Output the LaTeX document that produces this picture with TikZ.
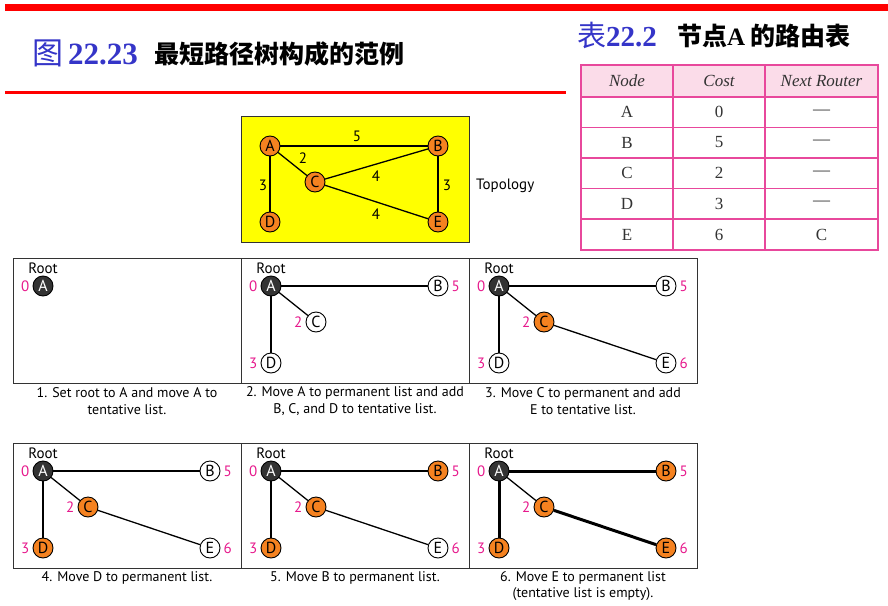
\documentclass[tikz,border=0pt]{standalone}
\usepackage{fontspec}
\usetikzlibrary{positioning}
\setmainfont{Liberation Serif}
\newfontfamily\cjk{Noto Sans CJK SC}
\newfontfamily\lab{PT Sans}
\definecolor{titleblue}{HTML}{3535C8}
\definecolor{barred}{HTML}{FF0000}
\definecolor{tpink}{HTML}{E8489C}
\definecolor{hpink}{HTML}{FBDCE9}
\definecolor{ora}{HTML}{F58220}
\definecolor{mag}{HTML}{E6198C}
\definecolor{ylw}{HTML}{FFFF00}
\definecolor{dk}{HTML}{333333}
\tikzset{
  vtx/.style={circle,draw=black,line width=0.9pt,minimum size=20pt,inner sep=0pt,font=\lab\fontsize{16}{16}\selectfont},
  wv/.style={vtx,fill=white},
  ov/.style={vtx,fill=ora},
  bv/.style={vtx,fill=dk,text=white},
  edge/.style={line width=1.3pt},
  tedge/.style={line width=3pt},
  cost/.style={text=mag,font=\lab\fontsize{15}{15}\selectfont,inner sep=1pt},
  wlab/.style={font=\lab\fontsize{15}{15}\selectfont,inner sep=1pt},
  capt/.style={font=\lab\fontsize{14}{16.5}\selectfont,align=center,inner sep=0pt},
  panel/.style={draw=dk,line width=0.9pt},
  tcell/.style={font=\fontsize{17}{17}\selectfont,text=black!80,inner sep=0pt}
}
\begin{document}
\begin{tikzpicture}[x=1pt,y=-1pt]
\useasboundingbox (0,0) rectangle (888,605);
% red bars
\fill[barred] (5,4) rectangle (888,11);
\fill[barred] (5,91) rectangle (566,93.5);
% titles
\node[anchor=west,inner sep=0pt,text=titleblue] (t1) at (32,53) {{\cjk\fontsize{31}{31}\selectfont 图}\hspace{5pt}{\bfseries\fontsize{31}{31}\selectfont 22.23}};
\node[anchor=west,inner sep=0pt] (t2) at (154,54) {\cjk\bfseries\fontsize{25}{25}\selectfont 最短路径树构成的范例};
\node[anchor=west,inner sep=0pt,text=titleblue] (t3) at (577,35) {{\cjk\fontsize{29}{29}\selectfont 表}{\bfseries\fontsize{29}{29}\selectfont 22.2}};
\node[anchor=west,inner sep=0pt] (t4) at (677,36) {\cjk\bfseries\fontsize{25}{25}\selectfont 节点{\rmfamily A} 的路由表};
% table
\fill[hpink] (581,65) rectangle (878,97);
\draw[tpink,line width=1.1pt] (581,65) rectangle (878,250);
\foreach \yy in {97,127.5,158,188.5,219} \draw[tpink,line width=1.1pt] (581,\yy) -- (878,\yy);
\foreach \xx in {673,765} \draw[tpink,line width=1.1pt] (\xx,65) -- (\xx,250);
\node[tcell,font=\itshape\fontsize{17}{17}\selectfont] (h1) at (627,81) {Node};
\node[tcell,font=\itshape\fontsize{17}{17}\selectfont] (h2) at (719,81) {Cost};
\node[tcell,font=\itshape\fontsize{17}{17}\selectfont] (h3) at (821.5,81) {Next Router};
\foreach \n/\c/\r/\yy in {A/0/---/112, B/5/---/142.5, C/2/---/173, D/3/---/203.5, E/6/C/234.5}{
  \node[tcell] (n\n) at (627,\yy) {\n};
  \node[tcell] (c\n) at (719,\yy) {\c};
  \node[tcell] (r\n) at (821.5,\yy) {\r};
}
% topology
\fill[ylw] (241,116) rectangle (469,242);
\draw[dk,line width=0.9pt] (241,116) rectangle (469,242);
\node[ov] (TA) at (270,146) {A};
\node[ov] (TB) at (438,146) {B};
\node[ov] (TC) at (315,182) {C};
\node[ov] (TD) at (270,222) {D};
\node[ov] (TE) at (438,222) {E};
\draw[edge] (TA) -- (TB);
\draw[edge] (TA) -- (TC);
\draw[edge] (TA) -- (TD);
\draw[edge] (TC) -- (TB);
\draw[edge] (TC) -- (TE);
\draw[edge] (TB) -- (TE);
\node[wlab] (l1) at (357,136) {5};
\node[wlab] (l2) at (303,158) {2};
\node[wlab] (l3) at (263,185) {3};
\node[wlab] (l4) at (376,176) {4};
\node[wlab] (l5) at (376,214) {4};
\node[wlab] (l6) at (447,185) {3};
\node[wlab,anchor=west] (topo) at (475,186) {Topology};
% panels frames
\draw[panel] (13,258) rectangle (697,383);
\draw[panel] (241,258) -- (241,383);
\draw[panel] (469,258) -- (469,383);
\draw[panel] (13,443) rectangle (697,568);
\draw[panel] (241,443) -- (241,568);
\draw[panel] (469,443) -- (469,568);
% panel 1
\node[wlab] (r1) at (43,268) {Root};
\node[bv] (p1A) at (43,286) {A};
\node[cost,left=2pt of p1A] (p1a) {0};
% panel 2
\begin{scope}[shift={(228,0)}]
\node[wlab] (r2) at (43,268) {Root};
\node[bv] (p2A) at (43,286) {A};
\node[wv] (p2B) at (210,286) {B};
\node[wv] (p2C) at (88,322) {C};
\node[wv] (p2D) at (43,363) {D};
\draw[edge] (p2A) -- (p2B);
\draw[edge] (p2A) -- (p2C);
\draw[edge] (p2A) -- (p2D);
\node[cost,left=2pt of p2A] (p2a) {0};
\node[cost,right=2pt of p2B] (p2b) {5};
\node[cost,left=2pt of p2C] (p2c) {2};
\node[cost,left=2pt of p2D] (p2d) {3};
\end{scope}
% panel 3
\begin{scope}[shift={(456,0)}]
\node[wlab] (r3) at (43,268) {Root};
\node[bv] (p3A) at (43,286) {A};
\node[wv] (p3B) at (210,286) {B};
\node[ov] (p3C) at (88,322) {C};
\node[wv] (p3D) at (43,363) {D};
\node[wv] (p3E) at (210,363) {E};
\draw[edge] (p3A) -- (p3B);
\draw[edge] (p3A) -- (p3C);
\draw[edge] (p3A) -- (p3D);
\draw[edge] (p3C) -- (p3E);
\node[cost,left=2pt of p3A] (p3a) {0};
\node[cost,right=2pt of p3B] (p3b) {5};
\node[cost,left=2pt of p3C] (p3c) {2};
\node[cost,left=2pt of p3D] (p3d) {3};
\node[cost,right=2pt of p3E] (p3e) {6};
\end{scope}
% panel 4
\begin{scope}[shift={(0,185)}]
\node[wlab] (r4) at (43,268) {Root};
\node[bv] (p4A) at (43,286) {A};
\node[wv] (p4B) at (210,286) {B};
\node[ov] (p4C) at (88,322) {C};
\node[ov] (p4D) at (43,363) {D};
\node[wv] (p4E) at (210,363) {E};
\draw[edge] (p4A) -- (p4B);
\draw[edge] (p4A) -- (p4C);
\draw[edge] (p4A) -- (p4D);
\draw[edge] (p4C) -- (p4E);
\node[cost,left=2pt of p4A] (p4a) {0};
\node[cost,right=2pt of p4B] (p4b) {5};
\node[cost,left=2pt of p4C] (p4c) {2};
\node[cost,left=2pt of p4D] (p4d) {3};
\node[cost,right=2pt of p4E] (p4e) {6};
\end{scope}
% panel 5
\begin{scope}[shift={(228,185)}]
\node[wlab] (r5) at (43,268) {Root};
\node[bv] (p5A) at (43,286) {A};
\node[ov] (p5B) at (210,286) {B};
\node[ov] (p5C) at (88,322) {C};
\node[ov] (p5D) at (43,363) {D};
\node[wv] (p5E) at (210,363) {E};
\draw[edge] (p5A) -- (p5B);
\draw[edge] (p5A) -- (p5C);
\draw[edge] (p5A) -- (p5D);
\draw[edge] (p5C) -- (p5E);
\node[cost,left=2pt of p5A] (p5a) {0};
\node[cost,right=2pt of p5B] (p5b) {5};
\node[cost,left=2pt of p5C] (p5c) {2};
\node[cost,left=2pt of p5D] (p5d) {3};
\node[cost,right=2pt of p5E] (p5e) {6};
\end{scope}
% panel 6
\begin{scope}[shift={(456,185)}]
\node[wlab] (r6) at (43,268) {Root};
\node[bv] (p6A) at (43,286) {A};
\node[ov] (p6B) at (210,286) {B};
\node[ov] (p6C) at (88,322) {C};
\node[ov] (p6D) at (43,363) {D};
\node[ov] (p6E) at (210,363) {E};
\draw[tedge] (p6A) -- (p6B);
\draw[edge] (p6A) -- (p6C);
\draw[tedge] (p6A) -- (p6D);
\draw[tedge] (p6C) -- (p6E);
\node[cost,left=2pt of p6A] (p6a) {0};
\node[cost,right=2pt of p6B] (p6b) {5};
\node[cost,left=2pt of p6C] (p6c) {2};
\node[cost,left=2pt of p6D] (p6d) {3};
\node[cost,right=2pt of p6E] (p6e) {6};
\end{scope}
% captions
\node[capt] (k1) at (127,401) {1. Set root to A and move A to\\tentative list.};
\node[capt] (k2) at (355,401) {2. Move A to permanent list and add\\B, C, and D to tentative list.};
\node[capt] (k3) at (583,401) {3. Move C to permanent and add\\E to tentative list.};
\node[capt] (k4) at (127,578) {4. Move D to permanent list.};
\node[capt] (k5) at (355,578) {5. Move B to permanent list.};
\node[capt] (k6) at (583,586) {6. Move E to permanent list\\(tentative list is empty).};
\end{tikzpicture}
\end{document}
